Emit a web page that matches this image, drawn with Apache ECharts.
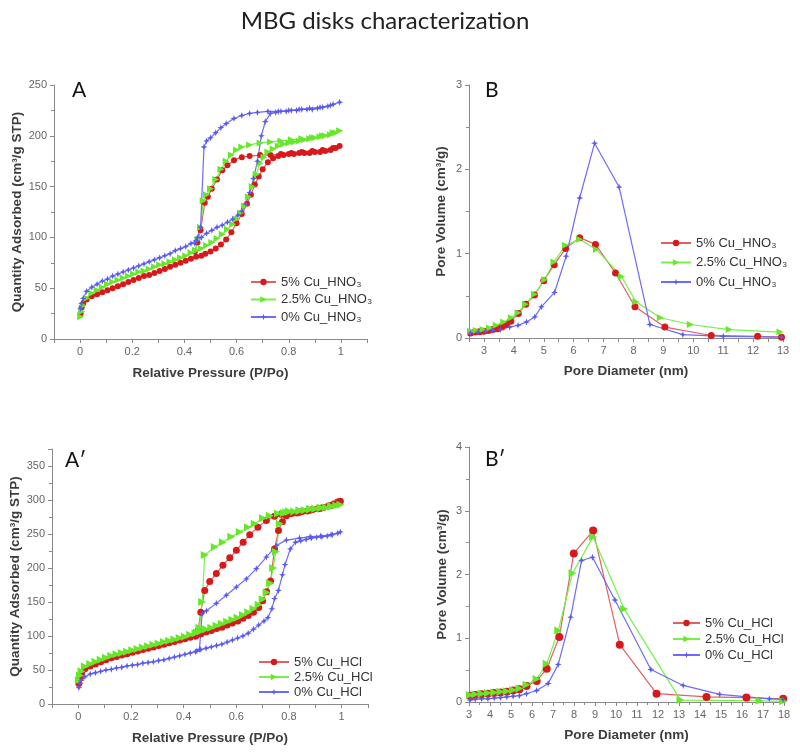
<!DOCTYPE html>
<html>
<head>
<meta charset="utf-8">
<script src="https://cdn.jsdelivr.net/npm/echarts@6/dist/echarts.min.js"></script>
<style>html,body{margin:0;padding:0;background:#fff}#c{width:800px;height:756px}</style>
</head>
<body>
<div id="c"></div>
<script>
// ---------- DATA ----------
const chartTitle = 'MBG disks characterization';
const panelLabels = ['A', 'B', 'A\u2032', 'B\u2032'];
const namesHNO3 = ['5% Cu_HNO\u2083', '2.5% Cu_HNO\u2083', '0% Cu_HNO\u2083'];
const namesHCl = ['5% Cu_HCl', '2.5% Cu_HCl', '0% Cu_HCl'];

// Panel A: isotherms (adsorption then desorption), x = P/Po, y = cm3/g STP
const aRed = [[0.002,25],[0.006,31],[0.012,35],[0.025,39],[0.045,42],[0.065,44],[0.085,46],[0.105,48],[0.125,50],[0.145,52],[0.165,54],[0.185,56],[0.205,58],[0.225,60],[0.245,62],[0.265,63],[0.285,65],[0.305,67],[0.325,69],[0.345,71],[0.365,73],[0.385,75],[0.405,77],[0.425,79],[0.445,81],[0.465,82],[0.48,84],[0.5,86],[0.52,89],[0.54,93],[0.56,98],[0.58,105],[0.6,114],[0.62,123],[0.64,133],[0.655,142],[0.67,152],[0.685,160],[0.7,167],[0.72,174],[0.74,178],[0.76,180],[0.78,181],[0.8,182],[0.82,182],[0.84,183],[0.86,183],[0.88,183],[0.9,184],[0.92,184],[0.94,185],[0.96,186],[0.98,188],[0.995,190],
  [0.97,188],[0.93,186],[0.89,185],[0.85,184],[0.81,183],[0.77,182],[0.73,181],[0.69,181],[0.65,180],[0.62,179],[0.59,176],[0.565,171],[0.545,166],[0.525,157],[0.505,148],[0.49,140],[0.478,134],[0.462,107],[0.45,95],[0.44,86]];
const aGreen = [[0.002,22],[0.006,27],[0.012,33],[0.025,40],[0.045,45],[0.065,48],[0.085,51],[0.105,54],[0.125,56],[0.145,58],[0.165,60],[0.185,62],[0.205,64],[0.225,66],[0.245,67],[0.265,69],[0.285,71],[0.305,73],[0.325,74],[0.345,76],[0.365,78],[0.385,80],[0.405,82],[0.425,85],[0.445,87],[0.465,89],[0.485,92],[0.505,95],[0.525,99],[0.545,103],[0.565,108],[0.585,113],[0.6,118],[0.615,124],[0.63,131],[0.645,140],[0.66,150],[0.675,162],[0.69,173],[0.705,179],[0.72,184],[0.74,187],[0.76,190],[0.78,192],[0.8,193],[0.82,194],[0.84,195],[0.86,196],[0.88,197],[0.9,198],[0.92,199],[0.94,200],[0.96,201],[0.98,203],[0.995,205],
  [0.97,203],[0.93,200],[0.89,198],[0.85,197],[0.81,196],[0.77,195],[0.73,194],[0.69,193],[0.65,191],[0.62,189],[0.6,186],[0.58,181],[0.56,175],[0.54,167],[0.52,157],[0.5,148],[0.485,142],[0.472,136],[0.462,110],[0.452,98],[0.442,87]];
const aBlue = [[0.002,30],[0.006,35],[0.012,40],[0.025,47],[0.045,51],[0.065,54],[0.085,57],[0.105,59],[0.125,62],[0.145,64],[0.165,66],[0.185,68],[0.205,70],[0.225,72],[0.245,74],[0.265,76],[0.285,78],[0.305,80],[0.325,82],[0.345,84],[0.365,87],[0.385,89],[0.405,91],[0.425,94],[0.445,97],[0.465,100],[0.485,104],[0.505,107],[0.525,110],[0.545,112],[0.565,115],[0.585,118],[0.605,122],[0.62,126],[0.635,133],[0.65,144],[0.665,158],[0.68,175],[0.695,200],[0.71,214],[0.73,222],[0.75,223],[0.77,224],[0.79,224],[0.81,225],[0.83,225],[0.85,226],[0.87,226],[0.89,226],[0.91,227],[0.93,228],[0.95,229],[0.97,231],[0.995,233],
  [0.96,230],[0.92,228],[0.88,227],[0.84,226],[0.8,225],[0.76,224],[0.72,224],[0.68,223],[0.65,222],[0.62,220],[0.59,217],[0.56,212],[0.54,208],[0.52,203],[0.5,198],[0.485,195],[0.475,189],[0.462,110],[0.45,100],[0.44,94]];

// Panel B: pore size distribution (nm, cm3/g)
const bRed = [[2.55,0.06],[2.7,0.07],[2.85,0.075],[3.0,0.08],[3.15,0.09],[3.3,0.1],[3.45,0.11],[3.6,0.13],[3.75,0.16],[3.9,0.2],[4.15,0.29],[4.4,0.4],[4.69,0.51],[5.0,0.68],[5.35,0.87],[5.73,1.06],[6.2,1.19],[6.73,1.11],[7.4,0.77],[8.05,0.37],[9.05,0.13],[10.6,0.03],[12.15,0.02],[12.95,0.01]];
const bGreen = [[2.55,0.08],[2.74,0.09],[2.97,0.1],[3.19,0.12],[3.41,0.15],[3.66,0.19],[3.91,0.24],[4.14,0.3],[4.39,0.4],[4.69,0.52],[5.03,0.69],[5.34,0.9],[5.73,1.1],[6.2,1.17],[6.76,1.05],[7.6,0.73],[8.08,0.43],[8.9,0.24],[9.9,0.16],[11.2,0.1],[12.9,0.07]];
const bBlue = [[2.55,0.06],[2.8,0.07],[3.05,0.08],[3.3,0.09],[3.55,0.1],[3.86,0.13],[4.14,0.15],[4.42,0.19],[4.7,0.25],[4.92,0.37],[5.36,0.54],[5.75,0.97],[6.2,1.66],[6.7,2.31],[7.52,1.79],[8.55,0.16],[9.65,0.04],[11,0.02],[12.95,0.01]];

// Panel A': isotherms HCl
const apRed = [[0.002,30],[0.006,38],[0.012,45],[0.025,52],[0.045,56],[0.065,59],[0.085,62],[0.105,65],[0.125,68],[0.145,70],[0.165,72],[0.185,74],[0.205,76],[0.225,78],[0.245,80],[0.265,82],[0.285,84],[0.305,86],[0.325,88],[0.345,90],[0.365,92],[0.385,94],[0.405,96],[0.425,98],[0.445,100],[0.465,103],[0.485,106],[0.505,108],[0.525,111],[0.545,113],[0.565,116],[0.585,119],[0.605,122],[0.625,126],[0.645,130],[0.665,135],[0.685,142],[0.7,152],[0.715,165],[0.73,181],[0.745,228],[0.76,255],[0.775,268],[0.79,277],[0.81,280],[0.83,281],[0.85,283],[0.87,284],[0.89,286],[0.91,287],[0.93,289],[0.95,291],[0.97,294],[0.985,297],[0.995,298],
  [0.96,292],[0.92,288],[0.88,285],[0.84,282],[0.8,280],[0.77,279],[0.745,276],[0.714,270],[0.682,260],[0.651,249],[0.626,238],[0.6,226],[0.575,215],[0.549,204],[0.524,192],[0.499,180],[0.48,167],[0.465,135],[0.455,108],[0.445,100]];
const apGreen = [[0.002,35],[0.006,42],[0.012,48],[0.025,55],[0.045,59],[0.065,62],[0.085,65],[0.105,68],[0.125,71],[0.145,73],[0.165,75],[0.185,77],[0.205,79],[0.225,81],[0.245,83],[0.265,85],[0.285,87],[0.305,89],[0.325,91],[0.345,93],[0.365,95],[0.385,97],[0.405,99],[0.425,102],[0.445,104],[0.465,107],[0.485,110],[0.505,112],[0.525,115],[0.545,118],[0.565,121],[0.585,124],[0.605,127],[0.625,131],[0.645,135],[0.665,140],[0.685,146],[0.7,154],[0.715,164],[0.728,178],[0.74,200],[0.75,224],[0.765,265],[0.78,281],[0.8,283],[0.82,283],[0.84,284],[0.86,285],[0.88,286],[0.9,287],[0.92,288],[0.94,289],[0.96,290],[0.98,292],[0.995,293],
  [0.96,291],[0.92,289],[0.88,287],[0.84,285],[0.8,283],[0.79,282],[0.758,280],[0.727,277],[0.701,273],[0.67,265],[0.644,260],[0.613,253],[0.581,246],[0.549,238],[0.518,231],[0.48,219],[0.47,150],[0.46,112],[0.45,105]];
const apBlue = [[0.002,24],[0.006,30],[0.012,35],[0.025,40],[0.045,44],[0.065,46],[0.085,48],[0.105,50],[0.125,51],[0.145,53],[0.165,54],[0.185,56],[0.205,57],[0.225,58],[0.245,60],[0.265,61],[0.285,62],[0.305,64],[0.325,65],[0.345,67],[0.365,69],[0.385,71],[0.405,73],[0.425,75],[0.445,77],[0.465,80],[0.485,82],[0.505,84],[0.525,86],[0.545,88],[0.565,91],[0.585,94],[0.605,97],[0.625,100],[0.645,104],[0.665,110],[0.685,116],[0.705,122],[0.72,127],[0.735,140],[0.745,155],[0.76,167],[0.775,190],[0.785,205],[0.805,228],[0.825,238],[0.845,240],[0.865,242],[0.885,244],[0.905,245],[0.925,246],[0.945,247],[0.965,249],[0.985,251],[0.995,253],
  [0.96,249],[0.92,247],[0.88,246],[0.84,244],[0.79,241],[0.752,233],[0.714,216],[0.676,199],[0.638,184],[0.6,172],[0.562,160],[0.524,148],[0.486,137],[0.47,133],[0.46,80],[0.45,78]];

// Panel B': pore size distribution HCl
const bpRed = [[3.05,0.1],[3.3,0.11],[3.6,0.12],[3.9,0.13],[4.2,0.14],[4.5,0.15],[4.8,0.16],[5.1,0.18],[5.4,0.2],[5.74,0.25],[6.22,0.33],[6.7,0.52],[7.3,1.02],[7.99,2.33],[8.91,2.69],[10.18,0.9],[11.93,0.13],[14.31,0.08],[16.21,0.07],[17.96,0.05]];
const bpGreen = [[3.05,0.11],[3.3,0.12],[3.6,0.13],[3.9,0.14],[4.2,0.15],[4.5,0.16],[4.8,0.17],[5.1,0.19],[5.4,0.21],[5.74,0.27],[6.22,0.36],[6.7,0.6],[7.25,1.12],[7.93,2.02],[8.91,2.59],[10.39,1.46],[13.07,0.03],[16.84,0.02],[17.96,0.01]];
const bpBlue = [[3.05,0.03],[3.3,0.04],[3.6,0.05],[3.9,0.05],[4.2,0.06],[4.5,0.07],[4.8,0.08],[5.1,0.09],[5.4,0.1],[5.74,0.13],[6.22,0.18],[6.77,0.29],[7.25,0.59],[7.84,1.33],[8.36,2.22],[8.88,2.27],[9.95,1.6],[11.66,0.51],[13.2,0.26],[14.94,0.12],[17.3,0.05],[17.96,0.04]];

// ---------- STYLE ----------
const FONT = 'Liberation Sans';
const STAR = 'path://M0,-10 L2.6,-2.6 L10,0 L2.6,2.6 L0,10 L-2.6,2.6 L-10,0 L-2.6,-2.6 Z';
const styles = [
  {line:'#e26060', fill:'#d8191b', symbol:'circle', rot:0},
  {line:'#74f24a', fill:'#66e82a', symbol:'triangle', rot:-90},
  {line:'#6b6bff', fill:'#5a5af0', symbol:STAR, rot:0}
];
const grids = [
  {left:54, top:85, width:313, height:254},
  {left:469, top:85, width:314, height:253},
  {left:52, top:449, width:316, height:255},
  {left:469, top:447, width:315, height:255}
];

const axisCol = '#8a8a8a';
function pressureFmt(v){ const r = Math.round(v*10); if (r < 0 || r > 10 || r % 2) return ''; return String(r/10); }
function intFmt(v){ return Math.abs(v - Math.round(v)) < 1e-6 ? String(Math.round(v)) : ''; }

function xAx(gi, min, max, interval, name, fmt, nameGap, minor){
  return {type:'value', gridIndex:gi, min, max, interval, name, nameLocation:'middle', nameGap,
    nameTextStyle:{fontWeight:'bold', fontSize:13.5, color:'#3c3c3c', fontFamily:FONT},
    axisLine:{onZero:false, lineStyle:{color:axisCol}},
    axisTick:{show:true, length:4, lineStyle:{color:axisCol}},
    minorTick:{show:!!minor, splitNumber:2, length:3, lineStyle:{color:axisCol}},
    axisLabel:{formatter:fmt, fontSize:11, color:'#666', fontFamily:FONT, margin:7, showMinLabel:true, showMaxLabel:true},
    splitLine:{show:false}};
}
function yAx(gi, min, max, interval, name, nameGap){
  return {type:'value', gridIndex:gi, min, max, interval, name, nameLocation:'middle', nameGap, nameRotate:90,
    nameTextStyle:{fontWeight:'bold', fontSize:13.5, color:'#3c3c3c', fontFamily:FONT},
    axisLine:{show:true, onZero:false, lineStyle:{color:axisCol}},
    axisTick:{show:true, length:4, lineStyle:{color:axisCol}},
    minorTick:{show:true, splitNumber:2, length:3, lineStyle:{color:axisCol}},
    axisLabel:{fontSize:11, color:'#666', fontFamily:FONT, margin:7, showMinLabel:true, showMaxLabel:true,
      formatter: v => (Math.abs(v / interval - Math.round(v / interval)) > 1e-6) ? '' : String(v)},
    splitLine:{show:false}};
}

function mk(name, data, gi, st, size){
  return {type:'line', name, data, xAxisIndex:gi, yAxisIndex:gi, symbol:st.symbol, symbolRotate:st.rot,
    symbolSize:size, symbolKeepAspect:true, showSymbol:true, animation:false,
    lineStyle:{color:st.line, width:1.2}, itemStyle:{color:st.fill}, z: 2};
}

function legend(names, left, top, itemWidth, gap){
  return {data:names, orient:'vertical', left, top, itemWidth, itemHeight:8, itemGap:gap,
    selectedMode:false, textStyle:{fontSize:13, color:'#333', fontFamily:FONT, lineHeight:14}};
}

const option = {
  animation:false,
  backgroundColor:'#fff',
  grid: grids,
  xAxis: [
    xAx(0, -0.1, 1.1, 0.1, 'Relative Pressure (P/Po)', pressureFmt, 27, false),
    xAx(1, 2.5, 13, 0.5, 'Pore Diameter (nm)', intFmt, 26, false),
    xAx(2, -0.1, 1.1, 0.1, 'Relative Pressure (P/Po)', pressureFmt, 27, false),
    xAx(3, 3, 18, 1, 'Pore Diameter (nm)', null, 26, true)
  ],
  yAxis: [
    yAx(0, 0, 250, 50, 'Quantity Adsorbed (cm\u00b3/g STP)', 30),
    yAx(1, 0, 3, 1, 'Pore Volume (cm\u00b3/g)', 21),
    yAx(2, 0, 375, 50, 'Quantity Adsorbed (cm\u00b3/g STP)', 29),
    yAx(3, 0, 4, 1, 'Pore Volume (cm\u00b3/g)', 20)
  ],
  legend: [
    legend(namesHNO3, 245, 270, 25, 3.5),
    legend(namesHNO3, 655, 231, 30, 5.5),
    legend(namesHCl, 253, 650, 30, 1),
    legend(namesHCl, 667, 611, 27, 2)
  ],
  series: [
    mk(namesHNO3[0], aRed, 0, styles[0], 6),
    mk(namesHNO3[1], aGreen, 0, styles[1], 7),
    mk(namesHNO3[2], aBlue, 0, styles[2], 7),
    mk(namesHNO3[0], bRed, 1, styles[0], 7),
    mk(namesHNO3[1], bGreen, 1, styles[1], 7),
    mk(namesHNO3[2], bBlue, 1, styles[2], 7),
    mk(namesHCl[0], apRed, 2, styles[0], 7),
    mk(namesHCl[1], apGreen, 2, styles[1], 8),
    mk(namesHCl[2], apBlue, 2, styles[2], 7),
    mk(namesHCl[0], bpRed, 3, styles[0], 8),
    mk(namesHCl[1], bpGreen, 3, styles[1], 8),
    mk(namesHCl[2], bpBlue, 3, styles[2], 7)
  ],
  graphic: [
    {type:'text', x:385, y:21, style:{text:chartTitle, font:'24px Lato', fill:'#222', align:'center', verticalAlign:'middle'}},
    {type:'text', x:72, y:90, style:{text:panelLabels[0], font:'21px Lato', fill:'#111', verticalAlign:'middle'}},
    {type:'text', x:485, y:90, style:{text:panelLabels[1], font:'21px Lato', fill:'#111', verticalAlign:'middle'}},
    {type:'text', x:65, y:460, style:{text:panelLabels[2], font:'21px Lato', fill:'#111', verticalAlign:'middle'}},
    {type:'text', x:485, y:459, style:{text:panelLabels[3], font:'21px Lato', fill:'#111', verticalAlign:'middle'}}
  ]
};

const chart = echarts.init(document.getElementById('c'), null, {renderer:'canvas'});
chart.setOption(option);
</script>
</body>
</html>
